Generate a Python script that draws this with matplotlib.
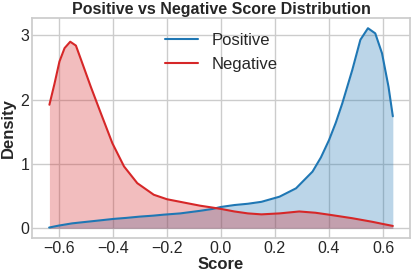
import matplotlib
matplotlib.use('Agg')
import matplotlib.pyplot as plt
import seaborn as sns
import numpy as np

# density curves (score -> density)
pos_x = [-0.635, -0.6, -0.55, -0.517, -0.45, -0.395, -0.35, -0.3, -0.25, -0.212, -0.15,
         -0.077, -0.03, 0.0, 0.05, 0.1, 0.15, 0.217, 0.278, 0.339, 0.37, 0.40, 0.425,
         0.449, 0.486, 0.516, 0.544, 0.571, 0.596, 0.62, 0.636]
pos_y = [0.01, 0.04, 0.075, 0.09, 0.12, 0.145, 0.16, 0.18, 0.195, 0.21, 0.23,
         0.27, 0.30, 0.33, 0.36, 0.38, 0.41, 0.49, 0.62, 0.88, 1.10, 1.37, 1.64,
         1.94, 2.46, 2.93, 3.11, 3.03, 2.72, 2.20, 1.74]

neg_x = [-0.634, -0.615, -0.597, -0.578, -0.557, -0.536, -0.517, -0.481, -0.444, -0.401,
         -0.358, -0.309, -0.248, -0.199, -0.126, -0.077, -0.03, 0.0, 0.05, 0.1, 0.15,
         0.217, 0.29, 0.35, 0.40, 0.486, 0.559, 0.6, 0.636]
neg_y = [1.92, 2.25, 2.59, 2.80, 2.90, 2.84, 2.62, 2.20, 1.79, 1.32,
         0.96, 0.70, 0.52, 0.45, 0.39, 0.35, 0.32, 0.30, 0.26, 0.23, 0.215,
         0.23, 0.26, 0.24, 0.21, 0.155, 0.10, 0.065, 0.035]

sns.set_theme(style='whitegrid')
plt.rcParams['font.family'] = ['Liberation Sans', 'DejaVu Sans']

fig, ax = plt.subplots(figsize=(4.15, 2.76), dpi=100)

blue = '#1f77b4'
red = '#d62728'
ax.plot(pos_x, pos_y, color=blue, lw=1.5, label='Positive')
ax.fill_between(pos_x, pos_y, color=blue, alpha=0.3, lw=0)
ax.plot(neg_x, neg_y, color=red, lw=1.5, label='Negative')
ax.fill_between(neg_x, neg_y, color=red, alpha=0.3, lw=0)

ax.set_xticks([-0.6, -0.4, -0.2, 0.0, 0.2, 0.4, 0.6])
ax.set_yticks([0, 1, 2, 3])
ax.tick_params(labelsize=11.5, length=0, pad=2)
ax.set_title('Positive vs Negative Score Distribution', fontsize=11.5, fontweight='bold', pad=3)
ax.set_xlabel('Score', fontsize=12, fontweight='bold', labelpad=1)
ax.set_ylabel('Density', fontsize=12, fontweight='bold', labelpad=3)
ax.legend(loc='upper center', fontsize=12, frameon=False)

plt.subplots_adjust(left=0.077, right=0.988, top=0.934, bottom=0.137)
plt.savefig('out.png', dpi=100)
